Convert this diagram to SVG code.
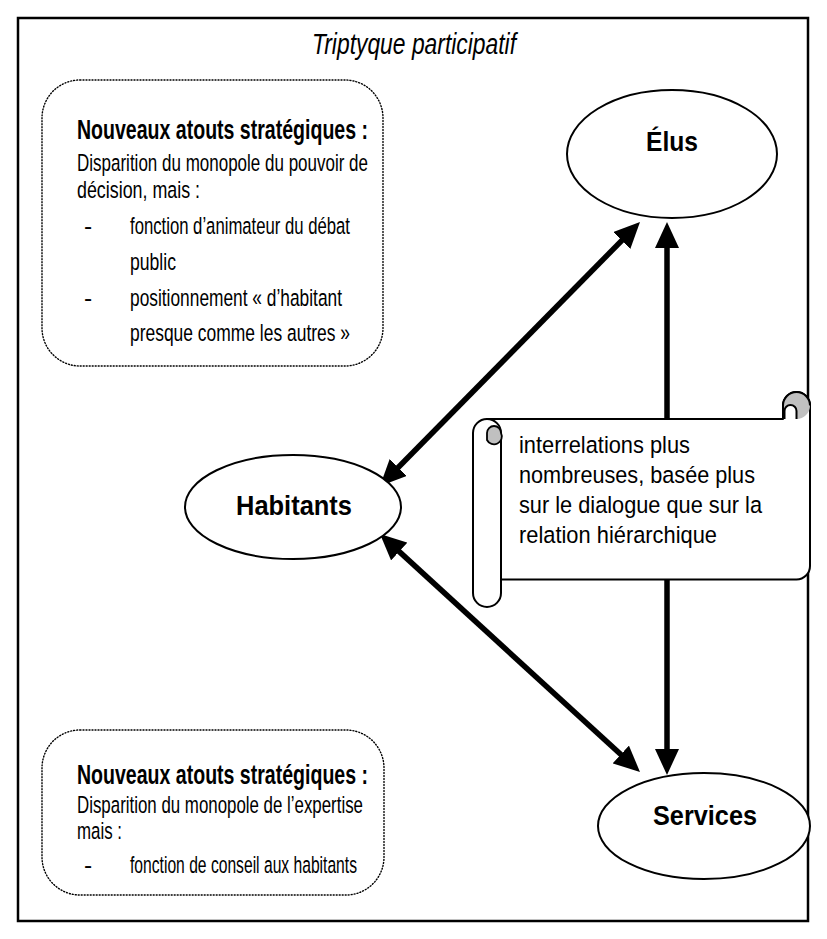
<svg xmlns="http://www.w3.org/2000/svg" width="827" height="939" viewBox="0 0 827 939">
<defs>
<style>
.t{font-family:"Liberation Sans Narrow","Liberation Sans",Arial,sans-serif;font-size:24.5px;fill:#000}
.b{font-family:"Liberation Sans Narrow","Liberation Sans",Arial,sans-serif;font-size:27px;font-weight:bold;fill:#000}
.n{font-family:"Liberation Sans Narrow","Liberation Sans",Arial,sans-serif;font-size:27px;font-weight:bold;fill:#000}
.box{fill:none;stroke:#000;stroke-width:1.4;stroke-dasharray:1 2;stroke-linecap:round}
.node{fill:#fff;stroke:#000;stroke-width:2}
.arr{stroke:#000;stroke-width:5.5;fill:none;marker-start:url(#ah);marker-end:url(#ah)}
.sc{fill:#fff;stroke:#000;stroke-width:2;stroke-linejoin:round}
</style>
<marker id="ah" markerUnits="userSpaceOnUse" markerWidth="26" markerHeight="24" viewBox="0 0 26 24" refX="18" refY="12" orient="auto-start-reverse">
<path d="M0,0 L26,12 L0,24 Z" fill="#000"/>
</marker>
</defs>
<rect x="18" y="18" width="790" height="903" fill="#fff" stroke="#000" stroke-width="2.5"/>
<text x="414" y="54" text-anchor="middle" textLength="204" lengthAdjust="spacingAndGlyphs" style="font-family:'Liberation Sans Narrow','Liberation Sans',Arial,sans-serif;font-size:29px;font-style:italic">Triptyque participatif</text>

<g id="box-elus-atouts">
<rect class="box" x="42" y="80" width="341" height="286" rx="38"/>
<text class="b" x="77" y="139" textLength="291" lengthAdjust="spacingAndGlyphs">Nouveaux atouts stratégiques :</text>
<text class="t" x="77" y="171" textLength="291" lengthAdjust="spacingAndGlyphs">Disparition du monopole du pouvoir de</text>
<text class="t" x="77" y="198" textLength="123" lengthAdjust="spacingAndGlyphs">décision, mais :</text>
<text class="t" x="84" y="234">-</text>
<text class="t" x="130" y="234" textLength="220" lengthAdjust="spacingAndGlyphs">fonction d’animateur du débat</text>
<text class="t" x="130" y="270" textLength="46" lengthAdjust="spacingAndGlyphs">public</text>
<text class="t" x="84" y="306">-</text>
<text class="t" x="130" y="306" textLength="212" lengthAdjust="spacingAndGlyphs">positionnement « d’habitant</text>
<text class="t" x="130" y="341" textLength="220" lengthAdjust="spacingAndGlyphs">presque comme les autres »</text>
</g>

<g id="box-services-atouts">
<rect class="box" x="42" y="730" width="342" height="165" rx="38"/>
<text class="b" x="77" y="784" textLength="291" lengthAdjust="spacingAndGlyphs">Nouveaux atouts stratégiques :</text>
<text class="t" x="77" y="813" textLength="286" lengthAdjust="spacingAndGlyphs">Disparition du monopole de l’expertise</text>
<text class="t" x="77" y="839" textLength="45" lengthAdjust="spacingAndGlyphs">mais :</text>
<text class="t" x="84" y="873">-</text>
<text class="t" x="130" y="873" textLength="227" lengthAdjust="spacingAndGlyphs">fonction de conseil aux habitants</text>
</g>

<g id="connectors">
<line class="arr" x1="634.4" y1="227.7" x2="385.6" y2="480.3"/>
<line class="arr" x1="385.9" y1="539.4" x2="634.1" y2="766.6"/>
<line class="arr" x1="667" y1="230" x2="667" y2="767"/>
</g>

<g id="elus">
<ellipse class="node" cx="672" cy="154" rx="105" ry="64"/>
<text class="n" x="672" y="151" text-anchor="middle" textLength="52" lengthAdjust="spacingAndGlyphs">Élus</text>
</g>
<g id="habitants">
<ellipse class="node" cx="293" cy="507" rx="108" ry="52"/>
<text class="n" x="294" y="515" text-anchor="middle" textLength="116" lengthAdjust="spacingAndGlyphs">Habitants</text>
</g>
<g id="services">
<ellipse class="node" cx="704" cy="826" rx="106" ry="53"/>
<text class="n" x="705" y="825" text-anchor="middle" textLength="104" lengthAdjust="spacingAndGlyphs">Services</text>
</g>

<g id="scroll">
<path class="sc" d="M487,419 H783 V405.5 A13.5,13.5 0 0 1 810,405.5 V566 A13.5,13.5 0 0 1 796.5,579.5 H487 Z"/>
<path d="M783,419 V405.5 A13.5,13.5 0 0 1 810,405.5 A13.5,13.5 0 0 1 796.5,419 Z" fill="#c0c0c0"/>
<path d="M783,419 V405.5 A13.5,13.5 0 0 1 810,405.5" fill="none" stroke="#000" stroke-width="2"/>
<path d="M784.5,419 V411 A6,6 0 0 1 796.5,411 V419" fill="#fff" stroke="#000" stroke-width="2"/>
<path class="sc" d="M473,433 A14,14 0 0 1 501,433 V593 A14,14 0 0 1 473,593 Z"/>
<path d="M487,433 A7,7 0 0 1 501,433 A7,7 0 0 1 487,440 Z" fill="#c0c0c0" stroke="#000" stroke-width="1.8"/>
<text class="t" x="519" y="453" textLength="171" lengthAdjust="spacingAndGlyphs">interrelations plus</text>
<text class="t" x="519" y="483" textLength="236" lengthAdjust="spacingAndGlyphs">nombreuses, basée plus</text>
<text class="t" x="519" y="513" textLength="243" lengthAdjust="spacingAndGlyphs">sur le dialogue que sur la</text>
<text class="t" x="519" y="543" textLength="198" lengthAdjust="spacingAndGlyphs">relation hiérarchique</text>
</g>
</svg>
